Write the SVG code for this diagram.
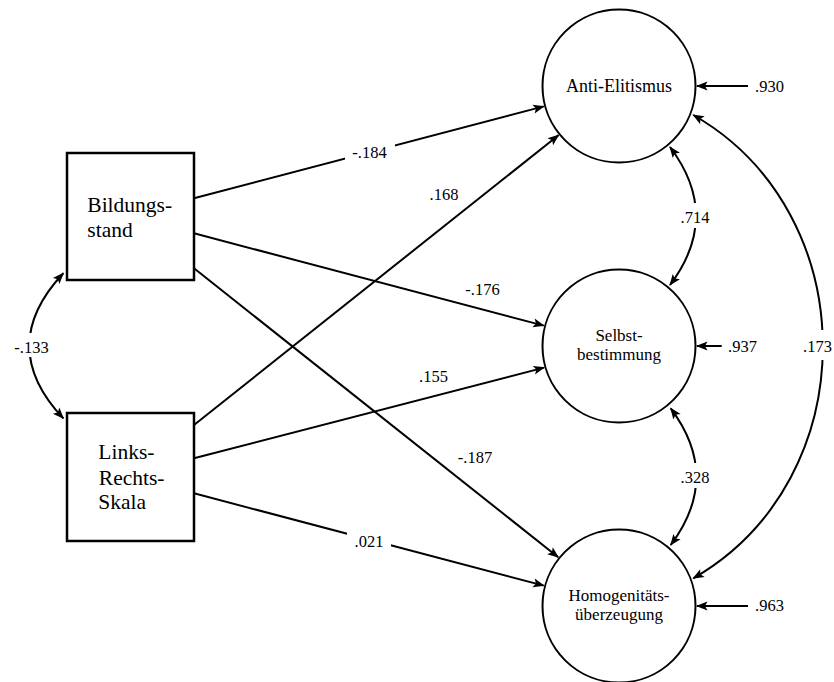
<svg xmlns="http://www.w3.org/2000/svg" width="834" height="682" viewBox="0 0 834 682">
<style>
  .box { fill: #fff; stroke: #000; stroke-width: 2.5; }
  .lat { fill: #fff; stroke: #000; stroke-width: 2; }
  .ntxt { font-family: "Liberation Serif", "DejaVu Serif", serif; font-size: 21.5px; fill: #000; }
  .ctxt { font-family: "Liberation Serif", "DejaVu Serif", serif; font-size: 18px; fill: #000; text-anchor: middle; }
  .ctxt2 { font-family: "Liberation Serif", "DejaVu Serif", serif; font-size: 17px; fill: #000; text-anchor: middle; }
  .lbl { font-family: "Liberation Serif", "DejaVu Serif", serif; font-size: 16.5px; fill: #000; }
  .mid { text-anchor: middle; }
  .edge { fill: none; stroke: #000; stroke-width: 2; marker-end: url(#ah); }
  .cov { fill: none; stroke: #000; stroke-width: 2; marker-start: url(#ah); marker-end: url(#ah); }
  .gap { fill: #fff; stroke: none; }
</style>
<defs>
  <marker id="ah" viewBox="-12 -6 14 12" refX="0" refY="0" markerWidth="14" markerHeight="12" markerUnits="userSpaceOnUse" orient="auto-start-reverse">
    <path d="M1,0 L-10.5,-4.5 L-8,0 L-10.5,4.5 Z" fill="#000"/>
  </marker>
</defs>
<rect width="834" height="682" fill="#fff"/>

<g id="connectors">
  <line class="edge" x1="194" y1="198.3" x2="543.7" y2="106.4"/>
  <line class="edge" x1="194" y1="233.3" x2="543.7" y2="325.6"/>
  <line class="edge" x1="194" y1="268.3" x2="558.2" y2="557.2"/>
  <line class="edge" x1="194" y1="425" x2="558.5" y2="135.2"/>
  <line class="edge" x1="194" y1="458.3" x2="544.1" y2="367.6"/>
  <line class="edge" x1="194" y1="493.3" x2="543.7" y2="585.6"/>
  <line class="edge" x1="748" y1="86" x2="697" y2="86"/>
  <line class="edge" x1="721.7" y1="346" x2="697" y2="346"/>
  <line class="edge" x1="748" y1="606" x2="697" y2="606"/>
  <path class="cov" d="M670,147 Q722,216 670,285"/>
  <path class="cov" d="M670.7,408.3 Q722,476.7 670.7,545"/>
  <path class="cov" d="M693.3,115 C866,214 866,479 693.3,578.3"/>
  <path class="cov" d="M63.3,273.3 Q-4.7,346 63.3,418.3"/>
  <rect class="gap" x="345" y="142" width="50" height="24"/>
  <rect class="gap" x="347" y="532" width="44" height="24"/>
  <rect class="gap" x="680" y="203" width="30" height="25"/>
  <rect class="gap" x="680" y="463" width="30" height="25"/>
  <rect class="gap" x="805" y="330" width="29" height="30"/>
  <rect class="gap" x="14" y="333" width="36" height="24"/>
  <text class="lbl mid" x="369.5" y="158">-.184</text>
  <text class="lbl mid" x="444" y="200">.168</text>
  <text class="lbl mid" x="482.5" y="295">-.176</text>
  <text class="lbl mid" x="433.5" y="381.7">.155</text>
  <text class="lbl mid" x="475" y="463">-.187</text>
  <text class="lbl mid" x="369" y="546.7">.021</text>
  <text class="lbl mid" x="695" y="223">.714</text>
  <text class="lbl mid" x="695" y="482.7">.328</text>
  <text class="lbl" x="803" y="351.7">.173</text>
  <text class="lbl mid" x="31.5" y="352.7">-.133</text>
  <text class="lbl" x="755" y="91.7">.930</text>
  <text class="lbl" x="728" y="351.7">.937</text>
  <text class="lbl" x="755" y="611">.963</text>
</g>

<g id="bildungsstand">
  <rect class="box" x="67" y="153" width="127" height="127"/>
  <text class="ntxt"><tspan x="87.3" y="211.7">Bildungs-</tspan><tspan x="87.3" y="236.7">stand</tspan></text>
</g>
<g id="links-rechts-skala">
  <rect class="box" x="67" y="413" width="127" height="128"/>
  <text class="ntxt"><tspan x="98.3" y="459.3">Links-</tspan><tspan x="98.8" y="484.5">Rechts-</tspan><tspan x="98.3" y="508.5">Skala</tspan></text>
</g>
<g id="anti-elitismus">
  <circle class="lat" cx="619" cy="86" r="76.5"/>
  <text class="ctxt" x="619" y="92">Anti-Elitismus</text>
</g>
<g id="selbstbestimmung">
  <circle class="lat" cx="619" cy="346" r="76.5"/>
  <text class="ctxt2"><tspan x="619" y="341">Selbst-</tspan><tspan x="619" y="360">bestimmung</tspan></text>
</g>
<g id="homogenitaetsueberzeugung">
  <circle class="lat" cx="619" cy="606" r="76.5"/>
  <text class="ctxt2"><tspan x="619" y="601">Homogenitäts-</tspan><tspan x="619" y="620">überzeugung</tspan></text>
</g>
</svg>
